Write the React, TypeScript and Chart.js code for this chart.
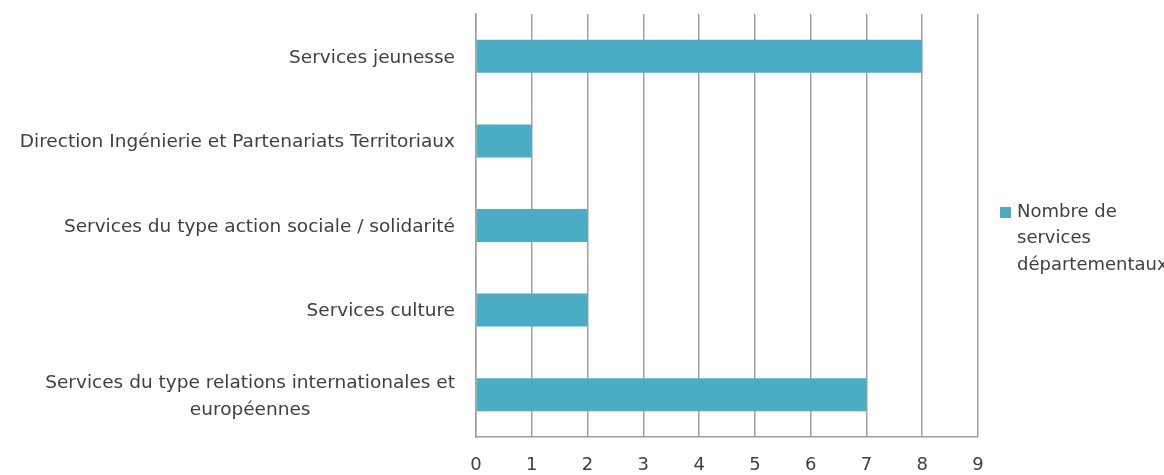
import React, { useEffect, useRef } from "react";
import { Chart, registerables } from "chart.js";

Chart.register(...registerables);

const categories: string[][] = [
  ["Services jeunesse"],
  ["Direction Ingénierie et Partenariats Territoriaux"],
  ["Services du type action sociale / solidarité"],
  ["Services culture"],
  ["Services du type relations internationales et", "européennes"],
];
const values: number[] = [8, 1, 2, 2, 7];
const seriesName = "Nombre de services départementaux";
const legendLines: string[] = ["Nombre de", "services", "départementaux"];
const xTicks: number[] = [0, 1, 2, 3, 4, 5, 6, 7, 8, 9];

const BAR = "#4BACC6";
const GRID = "#a0a0a0";
const TEXT = "#404040";
const FONT_FAMILY = "'DejaVu Sans', sans-serif";
const LABEL_FONT = `18.5px ${FONT_FAMILY}`;

const customDraw = {
  id: "customDraw",
  afterDraw(chart: any) {
    const ctx = chart.ctx as CanvasRenderingContext2D;
    const y = chart.scales.y;
    ctx.save();
    ctx.font = LABEL_FONT;
    ctx.fillStyle = TEXT;
    ctx.textBaseline = "middle";
    ctx.textAlign = "center";
    const rightEdge = chart.chartArea.left - 21;
    const lh = 27;
    categories.forEach((lines, i) => {
      const cy = y.getPixelForValue(i) + 1.5;
      const w = Math.max(...lines.map((l) => ctx.measureText(l).width));
      const cx = rightEdge - w / 2;
      const y0 = cy - ((lines.length - 1) * lh) / 2;
      lines.forEach((l, j) => ctx.fillText(l, cx, y0 + j * lh));
    });
    // legend
    ctx.font = `18px ${FONT_FAMILY}`;
    const lx = 1000;
    const ly = 212;
    ctx.fillStyle = BAR;
    ctx.fillRect(lx, ly - 5, 11, 11);
    ctx.fillStyle = TEXT;
    ctx.textAlign = "left";
    legendLines.forEach((l, j) => ctx.fillText(l, lx + 17, ly + j * 26.5));
    ctx.restore();
  },
};

export default function App() {
  const ref = useRef<HTMLCanvasElement>(null);
  useEffect(() => {
    document.body.style.margin = "0";
    const chart = new Chart(ref.current!, {
      type: "bar",
      data: {
        labels: categories.map((c) => c.join(" ")),
        datasets: [
          {
            label: seriesName,
            data: values,
            backgroundColor: BAR,
            borderWidth: 0,
            categoryPercentage: 1,
            barPercentage: 0.39,
          },
        ],
      },
      options: {
        indexAxis: "y",
        animation: false,
        responsive: false,
        layout: { padding: { top: 14, right: 186, bottom: 0, left: 0 } },
        plugins: { legend: { display: false }, tooltip: { enabled: false } },
        scales: {
          x: {
            min: 0,
            max: 9,
            afterBuildTicks: (scale: any) => {
              scale.ticks = xTicks.map((v) => ({ value: v }));
            },
            ticks: { color: TEXT, font: { family: FONT_FAMILY, size: 18 }, padding: 18 },
            grid: { color: GRID, lineWidth: 1.5, drawTicks: false },
            border: { color: GRID, width: 1.5 },
            afterFit: (scale: any) => {
              scale.height = 38;
            },
          },
          y: {
            ticks: { display: false },
            grid: { display: false, drawTicks: false },
            border: { color: GRID, width: 1.5 },
            afterFit: (scale: any) => {
              scale.width = 476;
            },
          },
        },
      },
      plugins: [customDraw],
    });
    return () => chart.destroy();
  }, []);
  return <canvas ref={ref} width={1164} height={475} style={{ display: "block" }} />;
}
